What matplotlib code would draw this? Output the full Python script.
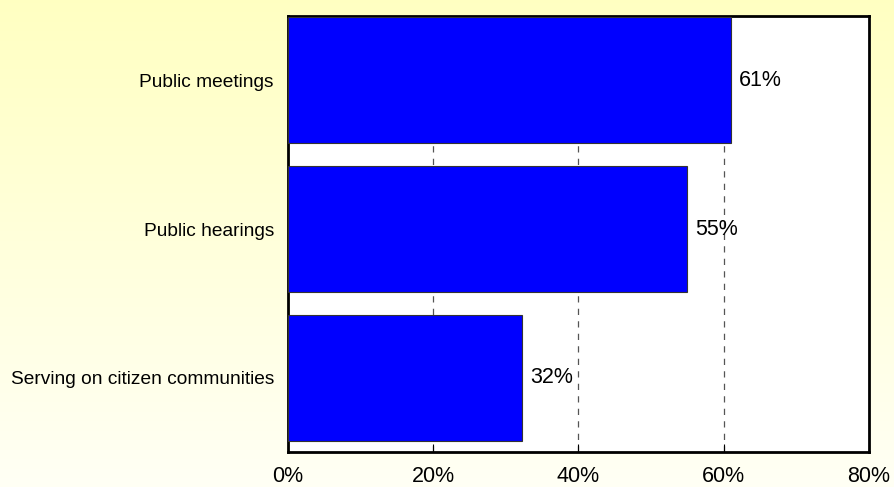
import matplotlib
matplotlib.use('Agg')
import matplotlib.pyplot as plt
import numpy as np

plt.rcParams['font.family'] = ['Liberation Sans', 'DejaVu Sans']

categories = ['Public meetings', 'Public hearings', 'Serving on citizen communities']
values = [61, 55, 32.3]
value_labels = ['61%', '55%', '32%']
ticks = [0, 20, 40, 60, 80]
tick_labels = ['0%', '20%', '40%', '60%', '80%']

fig = plt.figure(figsize=(8.94, 4.87), dpi=100)

# gradient background, light yellow at top fading to almost white
bg = fig.add_axes([0, 0, 1, 1], zorder=0)
grad = np.linspace(0, 1, 256).reshape(-1, 1)
top = np.array([1.0, 1.0, 0.76])
bottom = np.array([1.0, 1.0, 0.96])
img = top + (bottom - top) * grad[:, :, None]
bg.imshow(img, aspect='auto', extent=[0, 1, 0, 1])
bg.axis('off')

ax = fig.add_axes([0.322, 0.0719, 0.650, 0.895], zorder=1)
ax.set_facecolor('white')
y = np.arange(len(categories))
ax.barh(y, values, height=0.846, color='#0000FF', edgecolor='#333333', linewidth=0.8, zorder=3)

for yi, v, lab in zip(y, values, value_labels):
    ax.text(v + 1.1, yi, lab, va='center', ha='left', fontsize=15.5, color='black', zorder=4)

ax.set_xlim(0, 80)
ax.set_ylim(2.497, -0.43)
ax.set_yticks(y)
ax.set_yticklabels(categories, fontsize=13.8)
ax.set_xticks(ticks)
ax.set_xticklabels(tick_labels, fontsize=15.5)
ax.tick_params(axis='y', length=0, pad=10)
ax.tick_params(axis='x', direction='in', length=6, width=0.8, pad=10, colors='black')

for g in [20, 40, 60]:
    ax.axvline(g, color='#555555', linestyle=(0, (5, 5)), linewidth=0.9, zorder=1)

for s in ax.spines.values():
    s.set_linewidth(2)
    s.set_color('black')

plt.savefig('out.png', dpi=100)
plt.close()
